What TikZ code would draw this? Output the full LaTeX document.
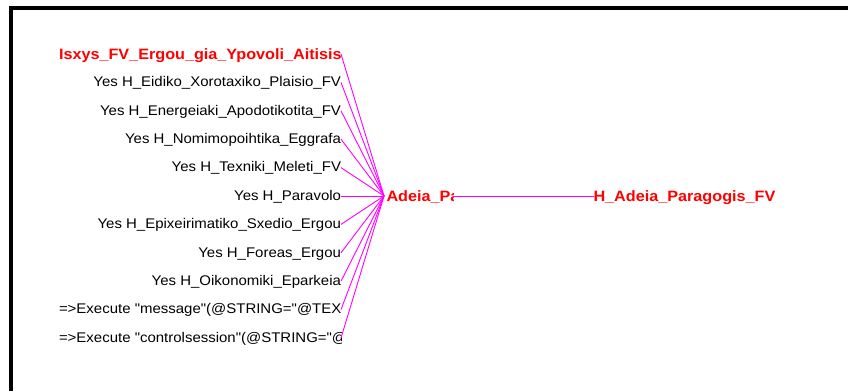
\documentclass[tikz,border=0pt]{standalone}
\usepackage{fontspec}
\newfontfamily\condfont[FakeStretch=1.07]{Liberation Sans}
\newfontfamily\keyfont[FakeStretch=1.08]{Liberation Sans}
\definecolor{linkpink}{RGB}{255,0,255}
\definecolor{keyred}{RGB}{255,0,0}
\begin{document}
\begin{tikzpicture}[x=1pt,y=-1pt,
  every node/.style={inner sep=0pt, outer sep=0pt},
  cond/.style={font=\condfont\fontsize{14}{16}\selectfont, text=black,
    text height=8.5pt, text depth=0pt, anchor=east},
  key/.style={font=\keyfont\bfseries\fontsize{15}{17}\selectfont, text=keyred,
    text height=10pt, text depth=0pt},
  link/.style={draw=linkpink, line width=0.9pt}]
  \useasboundingbox (0,0) rectangle (848,391);

  % window frame (top and left edges)
  \draw[line width=3.7pt] (11.3,391) -- (11.3,7.7) -- (848,7.7);

  % condition column, clipped at its right edge
  \begin{scope}
    \clip (20,30) rectangle (341.2,360);
    \node[key, anchor=east] (c0) at (341,54)
      {\makebox[282pt][l]{Isxys\_FV\_Ergou\_gia\_Ypovoli\_Aitisis}};
    \node[cond] (c1) at (341,82.4) {Yes H\_Eidiko\_Xorotaxiko\_Plaisio\_FV};
    \node[cond] (c2) at (341,110.8) {Yes H\_Energeiaki\_Apodotikotita\_FV};
    \node[cond] (c3) at (341,139.2) {Yes H\_Nomimopoihtika\_Eggrafa};
    \node[cond] (c4) at (341,167.6) {Yes H\_Texniki\_Meleti\_FV};
    \node[cond] (c5) at (341,196) {Yes H\_Paravolo};
    \node[cond] (c6) at (341,224.4) {Yes H\_Epixeirimatiko\_Sxedio\_Ergou};
    \node[cond] (c7) at (341,252.8) {Yes H\_Foreas\_Ergou};
    \node[cond] (c8) at (341,281.2) {Yes H\_Oikonomiki\_Eparkeia};
    \node[cond] (c9) at (341,309.6)
      {\makebox[282pt][l]{=>Execute "message"(@STRING="@TEX}};
    \node[cond] (c10) at (341,338)
      {\makebox[282pt][l]{=>Execute "controlsession"(@STRING="@}};
  \end{scope}

  % rule node, clipped to its box
  \begin{scope}
    \clip (384,180) rectangle (453,212);
    \node[key, anchor=west] (rule) at (384,196)
      {\hspace{2.5pt}\makebox[66.5pt][l]{Adeia\_Pa}};
  \end{scope}

  % conclusion
  \node[key, anchor=west] (goal) at (593.5,196) {H\_Adeia\_Paragogis\_FV};

  % connectors
  \foreach \i in {0,...,10}
    \draw[link] (c\i.east) -- (rule.west);
  \draw[link] (rule.east) -- (goal.west);
\end{tikzpicture}
\end{document}
